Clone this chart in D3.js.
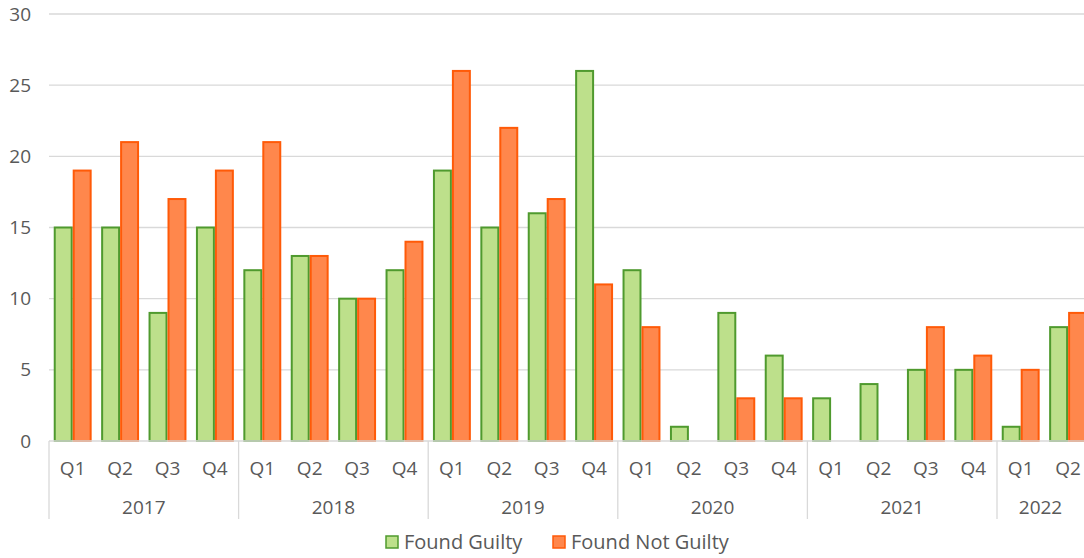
<!DOCTYPE html>
<html>
<head>
<meta charset="utf-8">
<script src="https://cdn.jsdelivr.net/npm/d3@7"></script>
<style>
  html, body { margin: 0; padding: 0; background: #fff; overflow: hidden; }
  svg { display: block; font-family: "Open Sans", sans-serif; }
</style>
</head>
<body>
<svg id="chart" width="1084" height="558"></svg>
<script>
const years = ["2017", "2018", "2019", "2020", "2021", "2022"];
const quarters = ["Q1", "Q2", "Q3", "Q4"];
const periods = [
  "2017 Q1","2017 Q2","2017 Q3","2017 Q4",
  "2018 Q1","2018 Q2","2018 Q3","2018 Q4",
  "2019 Q1","2019 Q2","2019 Q3","2019 Q4",
  "2020 Q1","2020 Q2","2020 Q3","2020 Q4",
  "2021 Q1","2021 Q2","2021 Q3","2021 Q4",
  "2022 Q1","2022 Q2"
];
const foundGuilty =    [15,15,9,15, 12,13,10,12, 19,15,16,26, 12,1,9,6, 3,4,5,5, 1,8];
const foundNotGuilty = [19,21,17,19, 21,13,10,14, 26,22,17,11, 8,0,3,3, 0,0,8,6, 5,9];
const seriesNames = ["Found Guilty", "Found Not Guilty"];
const yTicks = [0, 5, 10, 15, 20, 25, 30];

const fills = ["#bde08b", "#ff874c"];
const strokes = ["#4f9a2e", "#ff5a08"];

const svg = d3.select("#chart");
const plotLeft = 49, plotBottom = 441, plotTop = 14;
const step = 47.4;

const x = d3.scaleBand().domain(periods)
  .range([plotLeft, plotLeft + step * periods.length])
  .paddingInner(0.2).paddingOuter(0.1);
const xs = d3.scaleBand().domain(seriesNames).range([0, x.bandwidth()]);
const y = d3.scaleLinear().domain([0, 30]).range([plotBottom, plotTop]);

// gridlines and y labels
svg.append("g").selectAll("line").data(yTicks.filter(d => d > 0)).join("line")
  .attr("x1", plotLeft).attr("x2", 1084)
  .attr("y1", d => y(d)).attr("y2", d => y(d))
  .attr("stroke", "#d9d9d9").attr("stroke-width", 1.3);

svg.append("g").selectAll("text").data(yTicks).join("text")
  .attr("x", 31).attr("y", d => y(d)).attr("dy", "0.35em")
  .attr("text-anchor", "end").attr("font-size", 19).attr("fill", "#595959")
  .text(d => d);

// bars
const rows = periods.map((p, i) => ({ p, vals: [foundGuilty[i], foundNotGuilty[i]] }));
const groups = svg.append("g").selectAll("g").data(rows).join("g")
  .attr("transform", d => `translate(${x(d.p)},0)`);
groups.selectAll("rect").data(d => d.vals.map((v, k) => ({ v, k })).filter(e => e.v > 0)).join("rect")
  .attr("x", e => xs(seriesNames[e.k]) + 1)
  .attr("width", xs.bandwidth() - 2)
  .attr("y", e => y(e.v))
  .attr("height", e => y(0) - y(e.v))
  .attr("fill", e => fills[e.k])
  .attr("stroke", e => strokes[e.k])
  .attr("stroke-width", 2);

// category axis
const ax = svg.append("g");
ax.append("line").attr("x1", plotLeft).attr("x2", 1084).attr("y1", plotBottom).attr("y2", plotBottom)
  .attr("stroke", "#d9d9d9").attr("stroke-width", 1.3);
ax.selectAll("text.q").data(periods).join("text").attr("class", "q")
  .attr("x", d => x(d) + x.bandwidth() / 2).attr("y", 468).attr("dy", "0.35em")
  .attr("text-anchor", "middle").attr("font-size", 19).attr("fill", "#595959")
  .text(d => d.split(" ")[1]);

const yearBounds = years.map(yr => {
  const idx = periods.map((p, i) => p.startsWith(yr) ? i : -1).filter(i => i >= 0);
  return { yr, start: plotLeft + step * idx[0], end: plotLeft + step * (idx[idx.length - 1] + 1) };
});
ax.selectAll("line.sep").data(yearBounds).join("line").attr("class", "sep")
  .attr("x1", d => d.start).attr("x2", d => d.start)
  .attr("y1", plotBottom).attr("y2", 519)
  .attr("stroke", "#d9d9d9").attr("stroke-width", 1.3);
ax.selectAll("text.yr").data(yearBounds).join("text").attr("class", "yr")
  .attr("x", d => (d.start + Math.min(d.end, 1084)) / 2).attr("y", 507).attr("dy", "0.35em")
  .attr("text-anchor", "middle").attr("font-size", 19).attr("fill", "#595959")
  .text(d => d.yr);

// legend
const legend = svg.append("g");
const legendItems = [{ name: seriesNames[0], x: 386 }, { name: seriesNames[1], x: 553 }];
legendItems.forEach((it, k) => {
  legend.append("rect").attr("x", it.x).attr("y", 536).attr("width", 12).attr("height", 12)
    .attr("fill", fills[k]).attr("stroke", strokes[k]).attr("stroke-width", 1.5);
  legend.append("text").attr("x", it.x + 18).attr("y", 542).attr("dy", "0.35em")
    .attr("font-size", 20).attr("fill", "#595959").text(it.name);
});
</script>
</body>
</html>
